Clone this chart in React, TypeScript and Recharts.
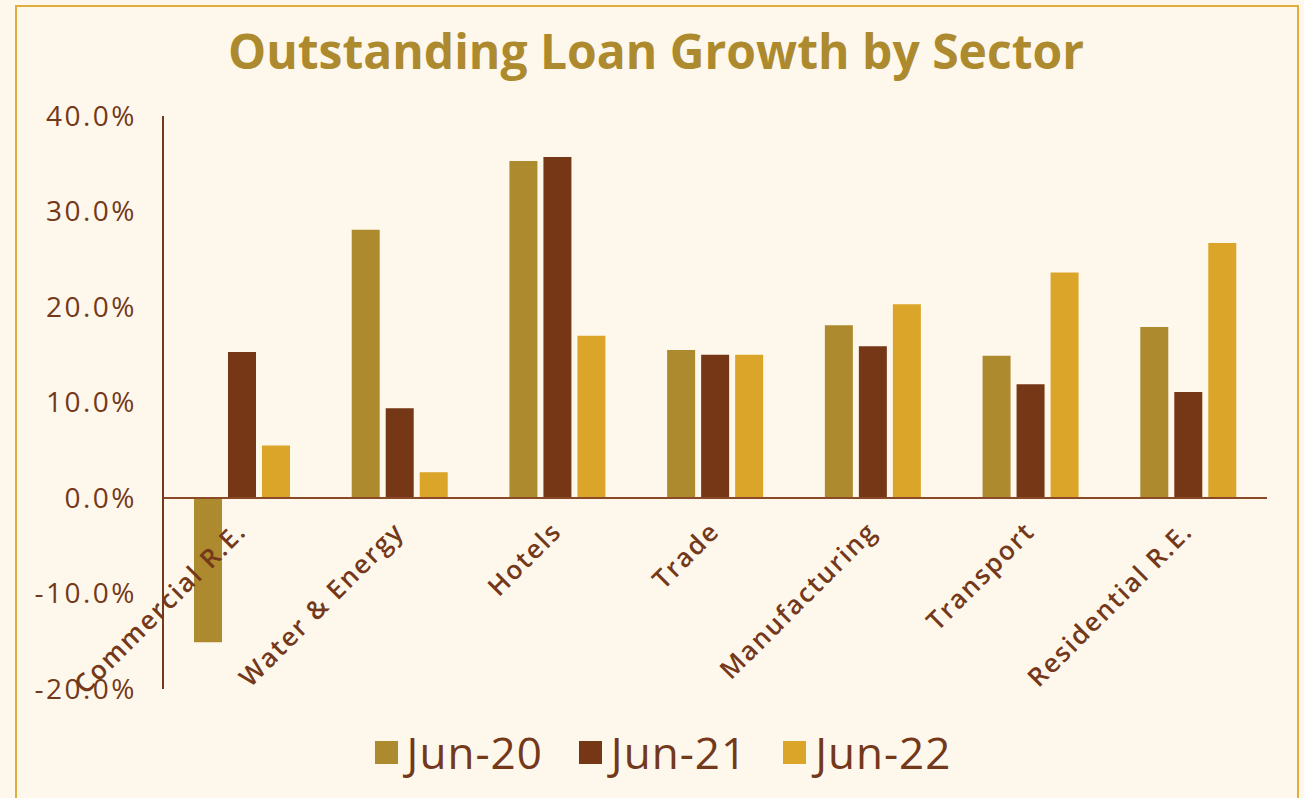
import { BarChart, Bar, XAxis, YAxis, ReferenceLine } from "recharts";

const sectors = [
  "Commercial R.E.",
  "Water & Energy",
  "Hotels",
  "Trade",
  "Manufacturing",
  "Transport",
  "Residential R.E.",
];
const jun20 = [-15.1, 28.1, 35.3, 15.5, 18.1, 14.9, 17.9];
const jun21 = [15.3, 9.4, 35.7, 15.0, 15.9, 11.9, 11.1];
const jun22 = [5.5, 2.7, 17.0, 15.0, 20.3, 23.6, 26.7];
const yTicks = [-20, -10, 0, 10, 20, 30, 40];

const seriesList = [
  { key: "jun20", name: "Jun-20", color: "#AD8A2E" },
  { key: "jun21", name: "Jun-21", color: "#763716" },
  { key: "jun22", name: "Jun-22", color: "#DBA52A" },
];

const BROWN = "#74381A";
const BG = "#FEF8EC";

const data = sectors.map((sector, i) => ({
  sector,
  jun20: jun20[i],
  jun21: jun21[i],
  jun22: jun22[i],
}));

// category labels sit just under the zero line, not at the bottom of the axis
function SectorTick({ x, y, payload }: any) {
  const ax = x + 6;
  const ay = y - 156;
  return (
    <text
      x={ax}
      y={ay}
      transform={`rotate(-45, ${ax}, ${ay})`}
      textAnchor="end"
      fill={BROWN}
      fontSize={26}
      fontWeight={600}
      letterSpacing={1.8}
      fontFamily="'Open Sans', sans-serif"
    >
      {payload.value}
    </text>
  );
}

function LegendBox() {
  return (
    <div style={{ display: "flex", justifyContent: "center", gap: 36, marginLeft: 22 }}>
      {seriesList.map((s) => (
        <div key={s.key} style={{ display: "flex", alignItems: "center" }}>
          <span style={{ width: 23, height: 23, background: s.color, marginRight: 9 }} />
          <span
            style={{
              color: BROWN,
              fontSize: 44,
              letterSpacing: 1,
              fontFamily: "'Open Sans', sans-serif",
              lineHeight: "46px",
            }}
          >
            {s.name}
          </span>
        </div>
      ))}
    </div>
  );
}

export default function App() {
  return (
    <div
      style={{
        position: "fixed",
        left: 0,
        top: 0,
        width: 1304,
        height: 798,
        background: BG,
        overflow: "hidden",
      }}
    >
      <div
        style={{
          position: "absolute",
          left: 15,
          top: 5,
          width: 1280,
          height: 900,
          border: "2px solid #E0AE3C",
        }}
      />
      <div
        style={{
          position: "absolute",
          left: 0,
          top: 21,
          width: 1312,
          textAlign: "center",
          color: "#AD8A2E",
          fontSize: 48,
          fontWeight: 700,
          fontFamily: "'Open Sans', sans-serif",
          lineHeight: "60px",
        }}
      >
        Outstanding Loan Growth by Sector
      </div>
      <div style={{ position: "absolute", left: 0, top: 0 }}>
        <BarChart
          width={1304}
          height={798}
          data={data}
          margin={{ top: 116, right: 37, bottom: 0, left: 0 }}
          barSize={28}
          barGap={6}
        >
          <XAxis
            dataKey="sector"
            height={109}
            axisLine={false}
            tickLine={false}
            tickSize={0}
            tickMargin={0}
            interval={0}
            tick={<SectorTick />}
          />
          <YAxis
            width={163}
            domain={[-20, 40]}
            ticks={yTicks}
            tickFormatter={(v: number) => `${v.toFixed(1)}%`}
            axisLine={{ stroke: BROWN, strokeWidth: 2 }}
            tickLine={false}
            tickSize={0}
            tickMargin={26}
            tick={{ fill: BROWN, fontSize: 28, letterSpacing: 2.5, fontFamily: "'Open Sans', sans-serif" }}
          />
          <ReferenceLine y={0} stroke="#8A4A28" strokeWidth={2} />
          {seriesList.map((s) => (
            <Bar
              key={s.key}
              dataKey={s.key}
              name={s.name}
              fill={s.color}
              isAnimationActive={false}
            />
          ))}
        </BarChart>
      </div>
      <div style={{ position: "absolute", left: 0, top: 729, width: 1304 }}>
        <LegendBox />
      </div>
    </div>
  );
}
